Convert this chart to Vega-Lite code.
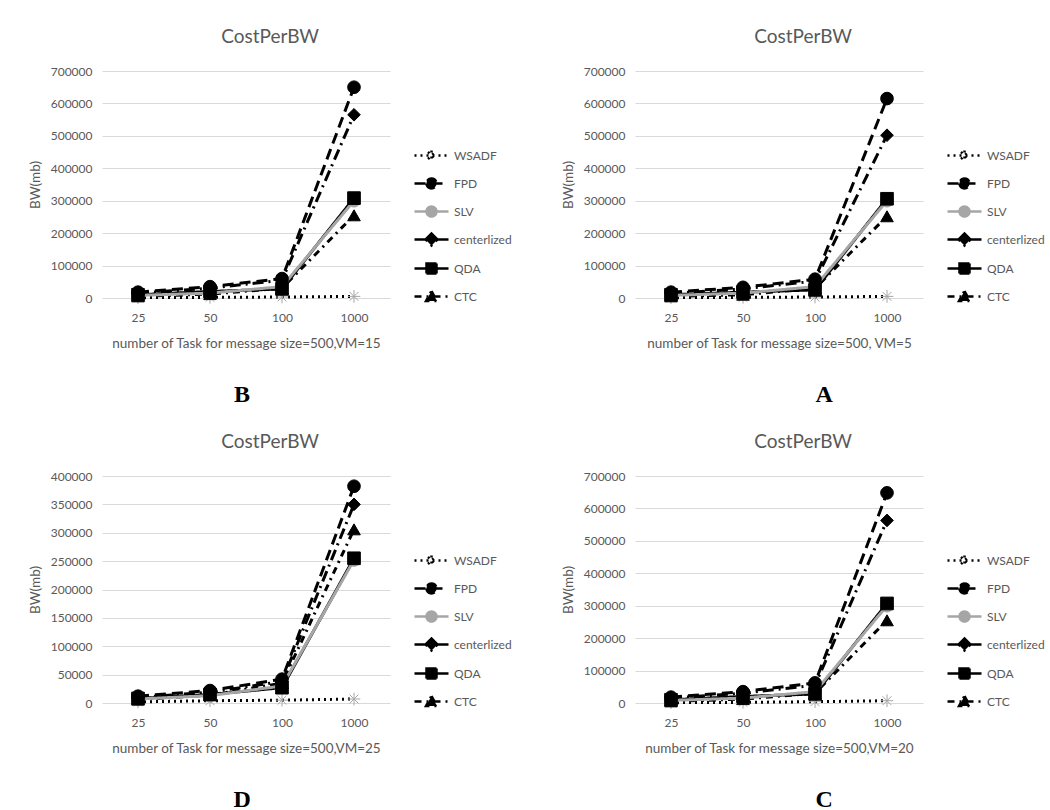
{
  "$schema": "https://vega.github.io/schema/vega-lite/v6.json",
  "background": "white",
  "padding": {"left": 28, "top": 28, "right": 5, "bottom": 5},
  "datasets": {
    "bw": [
      {"panel": "B", "series": "WSADF", "task": 25, "bw": 1000},
      {"panel": "B", "series": "WSADF", "task": 50, "bw": 2000},
      {"panel": "B", "series": "WSADF", "task": 100, "bw": 3000},
      {"panel": "B", "series": "WSADF", "task": 1000, "bw": 5000},
      {"panel": "B", "series": "FPD", "task": 25, "bw": 18000},
      {"panel": "B", "series": "FPD", "task": 50, "bw": 35000},
      {"panel": "B", "series": "FPD", "task": 100, "bw": 60000},
      {"panel": "B", "series": "FPD", "task": 1000, "bw": 650000},
      {"panel": "B", "series": "centerlized", "task": 25, "bw": 15000},
      {"panel": "B", "series": "centerlized", "task": 50, "bw": 30000},
      {"panel": "B", "series": "centerlized", "task": 100, "bw": 55000},
      {"panel": "B", "series": "centerlized", "task": 1000, "bw": 565000},
      {"panel": "B", "series": "QDA", "task": 25, "bw": 10000},
      {"panel": "B", "series": "QDA", "task": 50, "bw": 20000},
      {"panel": "B", "series": "QDA", "task": 100, "bw": 28000},
      {"panel": "B", "series": "QDA", "task": 1000, "bw": 308000},
      {"panel": "B", "series": "CTC", "task": 25, "bw": 5000},
      {"panel": "B", "series": "CTC", "task": 50, "bw": 12000},
      {"panel": "B", "series": "CTC", "task": 100, "bw": 30000},
      {"panel": "B", "series": "CTC", "task": 1000, "bw": 255000},
      {"panel": "B", "series": "SLV", "task": 25, "bw": 8000},
      {"panel": "B", "series": "SLV", "task": 50, "bw": 15000},
      {"panel": "B", "series": "SLV", "task": 100, "bw": 35000},
      {"panel": "B", "series": "SLV", "task": 1000, "bw": 300000},

      {"panel": "A", "series": "WSADF", "task": 25, "bw": 1000},
      {"panel": "A", "series": "WSADF", "task": 50, "bw": 2000},
      {"panel": "A", "series": "WSADF", "task": 100, "bw": 3000},
      {"panel": "A", "series": "WSADF", "task": 1000, "bw": 5000},
      {"panel": "A", "series": "FPD", "task": 25, "bw": 18000},
      {"panel": "A", "series": "FPD", "task": 50, "bw": 33000},
      {"panel": "A", "series": "FPD", "task": 100, "bw": 58000},
      {"panel": "A", "series": "FPD", "task": 1000, "bw": 615000},
      {"panel": "A", "series": "centerlized", "task": 25, "bw": 14000},
      {"panel": "A", "series": "centerlized", "task": 50, "bw": 28000},
      {"panel": "A", "series": "centerlized", "task": 100, "bw": 52000},
      {"panel": "A", "series": "centerlized", "task": 1000, "bw": 502000},
      {"panel": "A", "series": "QDA", "task": 25, "bw": 10000},
      {"panel": "A", "series": "QDA", "task": 50, "bw": 18000},
      {"panel": "A", "series": "QDA", "task": 100, "bw": 25000},
      {"panel": "A", "series": "QDA", "task": 1000, "bw": 306000},
      {"panel": "A", "series": "CTC", "task": 25, "bw": 5000},
      {"panel": "A", "series": "CTC", "task": 50, "bw": 10000},
      {"panel": "A", "series": "CTC", "task": 100, "bw": 30000},
      {"panel": "A", "series": "CTC", "task": 1000, "bw": 252000},
      {"panel": "A", "series": "SLV", "task": 25, "bw": 8000},
      {"panel": "A", "series": "SLV", "task": 50, "bw": 15000},
      {"panel": "A", "series": "SLV", "task": 100, "bw": 35000},
      {"panel": "A", "series": "SLV", "task": 1000, "bw": 300000},

      {"panel": "D", "series": "WSADF", "task": 25, "bw": 2000},
      {"panel": "D", "series": "WSADF", "task": 50, "bw": 4000},
      {"panel": "D", "series": "WSADF", "task": 100, "bw": 5000},
      {"panel": "D", "series": "WSADF", "task": 1000, "bw": 7000},
      {"panel": "D", "series": "FPD", "task": 25, "bw": 12000},
      {"panel": "D", "series": "FPD", "task": 50, "bw": 22000},
      {"panel": "D", "series": "FPD", "task": 100, "bw": 42000},
      {"panel": "D", "series": "FPD", "task": 1000, "bw": 382000},
      {"panel": "D", "series": "centerlized", "task": 25, "bw": 10000},
      {"panel": "D", "series": "centerlized", "task": 50, "bw": 19000},
      {"panel": "D", "series": "centerlized", "task": 100, "bw": 38000},
      {"panel": "D", "series": "centerlized", "task": 1000, "bw": 350000},
      {"panel": "D", "series": "QDA", "task": 25, "bw": 8000},
      {"panel": "D", "series": "QDA", "task": 50, "bw": 15000},
      {"panel": "D", "series": "QDA", "task": 100, "bw": 27000},
      {"panel": "D", "series": "QDA", "task": 1000, "bw": 255000},
      {"panel": "D", "series": "CTC", "task": 25, "bw": 6000},
      {"panel": "D", "series": "CTC", "task": 50, "bw": 14000},
      {"panel": "D", "series": "CTC", "task": 100, "bw": 35000},
      {"panel": "D", "series": "CTC", "task": 1000, "bw": 306000},
      {"panel": "D", "series": "SLV", "task": 25, "bw": 7000},
      {"panel": "D", "series": "SLV", "task": 50, "bw": 13000},
      {"panel": "D", "series": "SLV", "task": 100, "bw": 30000},
      {"panel": "D", "series": "SLV", "task": 1000, "bw": 252000},

      {"panel": "C", "series": "WSADF", "task": 25, "bw": 1000},
      {"panel": "C", "series": "WSADF", "task": 50, "bw": 2000},
      {"panel": "C", "series": "WSADF", "task": 100, "bw": 4000},
      {"panel": "C", "series": "WSADF", "task": 1000, "bw": 7000},
      {"panel": "C", "series": "FPD", "task": 25, "bw": 18000},
      {"panel": "C", "series": "FPD", "task": 50, "bw": 35000},
      {"panel": "C", "series": "FPD", "task": 100, "bw": 62000},
      {"panel": "C", "series": "FPD", "task": 1000, "bw": 648000},
      {"panel": "C", "series": "centerlized", "task": 25, "bw": 15000},
      {"panel": "C", "series": "centerlized", "task": 50, "bw": 30000},
      {"panel": "C", "series": "centerlized", "task": 100, "bw": 55000},
      {"panel": "C", "series": "centerlized", "task": 1000, "bw": 563000},
      {"panel": "C", "series": "QDA", "task": 25, "bw": 10000},
      {"panel": "C", "series": "QDA", "task": 50, "bw": 20000},
      {"panel": "C", "series": "QDA", "task": 100, "bw": 28000},
      {"panel": "C", "series": "QDA", "task": 1000, "bw": 307000},
      {"panel": "C", "series": "CTC", "task": 25, "bw": 5000},
      {"panel": "C", "series": "CTC", "task": 50, "bw": 12000},
      {"panel": "C", "series": "CTC", "task": 100, "bw": 30000},
      {"panel": "C", "series": "CTC", "task": 1000, "bw": 255000},
      {"panel": "C", "series": "SLV", "task": 25, "bw": 8000},
      {"panel": "C", "series": "SLV", "task": 50, "bw": 15000},
      {"panel": "C", "series": "SLV", "task": 100, "bw": 35000},
      {"panel": "C", "series": "SLV", "task": 1000, "bw": 300000}
    ]
  },
  "spacing": 26,
  "resolve": {"scale": {"color": "independent", "shape": "independent", "fill": "independent", "stroke": "independent", "strokeDash": "independent"}},
  "vconcat": [
    {
      "spacing": 49,
      "resolve": {"scale": {"color": "independent", "shape": "independent", "fill": "independent", "stroke": "independent", "strokeDash": "independent"}},
      "hconcat": [
        {
          "title": {"text": "B", "orient": "bottom", "font": "Liberation Serif", "fontWeight": "bold", "fontSize": 24, "color": "black", "anchor": "middle", "frame": "bounds", "offset": 33, "dx": -28},
          "resolve": {"scale": {"color": "independent", "shape": "independent", "fill": "independent", "stroke": "independent", "strokeDash": "independent"}},
          "hconcat": [
            {
              "width": 288, "height": 227,
              "title": "CostPerBW",
              "data": {"name": "bw"},
              "transform": [{"filter": "datum.panel === 'B'"}],
              "encoding": {
                "x": {"field": "task", "type": "ordinal", "scale": {"type": "point", "padding": 0.5}, "axis": {"title": "number of Task  for message size=500,VM=15", "labelAngle": 0}},
                "y": {"field": "bw", "type": "quantitative", "scale": {"domain": [0, 700000]}, "axis": {"title": "BW(mb)", "values": [0, 100000, 200000, 300000, 400000, 500000, 600000, 700000], "format": "d"}}
              },
              "layer": [
                {
                  "mark": {"type": "line", "strokeWidth": 3},
                  "encoding": {
                    "color": {"field": "series", "type": "nominal", "scale": {"domain": ["WSADF", "FPD", "SLV", "centerlized", "QDA", "CTC"], "range": ["black", "black", "#a6a6a6", "black", "black", "black"]},
                      "legend": {"title": null, "orient": "none", "legendX": 311, "legendY": 73, "symbolSize": 400, "symbolStrokeWidth": 2.5, "symbolOffset": 7, "labelOffset": 11, "labelFontSize": 12, "labelColor": "#595959", "rowPadding": 6,
                        "encode": {"symbols": {"update": {
                          "shape": {"signal": "datum.value === 'WSADF' ? 'M-1.7,0H1.7M-0.5,0H0.5M0,-0.5V0.5M-0.35,-0.35L0.35,0.35M-0.35,0.35L0.35,-0.35' : (datum.value === 'FPD' || datum.value === 'SLV') ? 'M-1.7,0H1.7M-0.5,0A0.5,0.5 0 1,0 0.5,0A0.5,0.5 0 1,0 -0.5,0Z' : datum.value === 'centerlized' ? 'M-1.7,0H1.7M0,-0.6L0.6,0L0,0.6L-0.6,0Z' : datum.value === 'QDA' ? 'M-1.7,0H1.7M-0.5,-0.5H0.5V0.5H-0.5Z' : 'M-1.7,0H1.7M0,-0.55L0.55,0.45L-0.55,0.45Z'"},
                          "fill": {"signal": "datum.value === 'SLV' ? '#a6a6a6' : 'black'"},
                          "strokeDash": {"signal": "datum.value === 'WSADF' ? [2,4] : datum.value === 'FPD' ? [11,6] : datum.value === 'centerlized' ? [11,5,2,5] : datum.value === 'CTC' ? [7,5,2,5] : [1,0]"}
                        }}}
                      }
                    },
                    "strokeDash": {"field": "series", "type": "nominal", "scale": {"domain": ["WSADF", "FPD", "SLV", "centerlized", "QDA", "CTC"], "range": [[2, 4], [11, 6], [1, 0], [11, 5, 2, 5], [1, 0], [7, 5, 2, 5]]}, "legend": null}
                  }
                },
                {
                  "mark": {"type": "point", "filled": true, "size": 160, "strokeWidth": 1, "opacity": 1},
                  "encoding": {
                    "order": {"field": "series", "sort": "descending"},
                    "shape": {"field": "series", "type": "nominal", "scale": {"domain": ["CTC", "QDA", "centerlized", "SLV", "FPD", "WSADF"], "range": ["triangle-up", "square", "diamond", "circle", "circle", "M-1,0L1,0M0,-1L0,1M-0.7,-0.7L0.7,0.7M-0.7,0.7L0.7,-0.7"]}, "legend": null},
                    "fill": {"field": "series", "type": "nominal", "scale": {"domain": ["CTC", "QDA", "centerlized", "SLV", "FPD", "WSADF"], "range": ["black", "black", "black", "#a6a6a6", "black", "#bfbfbf"]}, "legend": null},
                    "stroke": {"field": "series", "type": "nominal", "scale": {"domain": ["CTC", "QDA", "centerlized", "SLV", "FPD", "WSADF"], "range": ["black", "black", "black", "#a6a6a6", "black", "#a6a6a6"]}, "legend": null}
                  }
                }
              ]
            }
          ]
        },
        {
          "title": {"text": "A", "orient": "bottom", "font": "Liberation Serif", "fontWeight": "bold", "fontSize": 24, "color": "black", "anchor": "middle", "frame": "bounds", "offset": 33, "dx": 21},
          "resolve": {"scale": {"color": "independent", "shape": "independent", "fill": "independent", "stroke": "independent", "strokeDash": "independent"}},
          "hconcat": [
            {
              "width": 288, "height": 227,
              "title": "CostPerBW",
              "data": {"name": "bw"},
              "transform": [{"filter": "datum.panel === 'A'"}],
              "encoding": {
                "x": {"field": "task", "type": "ordinal", "scale": {"type": "point", "padding": 0.5}, "axis": {"title": "number of Task for message size=500, VM=5", "labelAngle": 0}},
                "y": {"field": "bw", "type": "quantitative", "scale": {"domain": [0, 700000]}, "axis": {"title": "BW(mb)", "values": [0, 100000, 200000, 300000, 400000, 500000, 600000, 700000], "format": "d"}}
              },
              "layer": [
                {
                  "mark": {"type": "line", "strokeWidth": 3},
                  "encoding": {
                    "color": {"field": "series", "type": "nominal", "scale": {"domain": ["WSADF", "FPD", "SLV", "centerlized", "QDA", "CTC"], "range": ["black", "black", "#a6a6a6", "black", "black", "black"]},
                      "legend": {"title": null, "orient": "none", "legendX": 311, "legendY": 73, "symbolSize": 400, "symbolStrokeWidth": 2.5, "symbolOffset": 7, "labelOffset": 11, "labelFontSize": 12, "labelColor": "#595959", "rowPadding": 6,
                        "encode": {"symbols": {"update": {
                          "shape": {"signal": "datum.value === 'WSADF' ? 'M-1.7,0H1.7M-0.5,0H0.5M0,-0.5V0.5M-0.35,-0.35L0.35,0.35M-0.35,0.35L0.35,-0.35' : (datum.value === 'FPD' || datum.value === 'SLV') ? 'M-1.7,0H1.7M-0.5,0A0.5,0.5 0 1,0 0.5,0A0.5,0.5 0 1,0 -0.5,0Z' : datum.value === 'centerlized' ? 'M-1.7,0H1.7M0,-0.6L0.6,0L0,0.6L-0.6,0Z' : datum.value === 'QDA' ? 'M-1.7,0H1.7M-0.5,-0.5H0.5V0.5H-0.5Z' : 'M-1.7,0H1.7M0,-0.55L0.55,0.45L-0.55,0.45Z'"},
                          "fill": {"signal": "datum.value === 'SLV' ? '#a6a6a6' : 'black'"},
                          "strokeDash": {"signal": "datum.value === 'WSADF' ? [2,4] : datum.value === 'FPD' ? [11,6] : datum.value === 'centerlized' ? [11,5,2,5] : datum.value === 'CTC' ? [7,5,2,5] : [1,0]"}
                        }}}
                      }
                    },
                    "strokeDash": {"field": "series", "type": "nominal", "scale": {"domain": ["WSADF", "FPD", "SLV", "centerlized", "QDA", "CTC"], "range": [[2, 4], [11, 6], [1, 0], [11, 5, 2, 5], [1, 0], [7, 5, 2, 5]]}, "legend": null}
                  }
                },
                {
                  "mark": {"type": "point", "filled": true, "size": 160, "strokeWidth": 1, "opacity": 1},
                  "encoding": {
                    "order": {"field": "series", "sort": "descending"},
                    "shape": {"field": "series", "type": "nominal", "scale": {"domain": ["CTC", "QDA", "centerlized", "SLV", "FPD", "WSADF"], "range": ["triangle-up", "square", "diamond", "circle", "circle", "M-1,0L1,0M0,-1L0,1M-0.7,-0.7L0.7,0.7M-0.7,0.7L0.7,-0.7"]}, "legend": null},
                    "fill": {"field": "series", "type": "nominal", "scale": {"domain": ["CTC", "QDA", "centerlized", "SLV", "FPD", "WSADF"], "range": ["black", "black", "black", "#a6a6a6", "black", "#bfbfbf"]}, "legend": null},
                    "stroke": {"field": "series", "type": "nominal", "scale": {"domain": ["CTC", "QDA", "centerlized", "SLV", "FPD", "WSADF"], "range": ["black", "black", "black", "#a6a6a6", "black", "#a6a6a6"]}, "legend": null}
                  }
                }
              ]
            }
          ]
        }
      ]
    },
    {
      "spacing": 49,
      "resolve": {"scale": {"color": "independent", "shape": "independent", "fill": "independent", "stroke": "independent", "strokeDash": "independent"}},
      "hconcat": [
        {
          "title": {"text": "D", "orient": "bottom", "font": "Liberation Serif", "fontWeight": "bold", "fontSize": 24, "color": "black", "anchor": "middle", "frame": "bounds", "offset": 33, "dx": -28},
          "resolve": {"scale": {"color": "independent", "shape": "independent", "fill": "independent", "stroke": "independent", "strokeDash": "independent"}},
          "hconcat": [
            {
              "width": 288, "height": 227,
              "title": "CostPerBW",
              "data": {"name": "bw"},
              "transform": [{"filter": "datum.panel === 'D'"}],
              "encoding": {
                "x": {"field": "task", "type": "ordinal", "scale": {"type": "point", "padding": 0.5}, "axis": {"title": "number of Task  for message size=500,VM=25", "labelAngle": 0}},
                "y": {"field": "bw", "type": "quantitative", "scale": {"domain": [0, 400000]}, "axis": {"title": "BW(mb)", "values": [0, 50000, 100000, 150000, 200000, 250000, 300000, 350000, 400000], "format": "d"}}
              },
              "layer": [
                {
                  "mark": {"type": "line", "strokeWidth": 3},
                  "encoding": {
                    "color": {"field": "series", "type": "nominal", "scale": {"domain": ["WSADF", "FPD", "SLV", "centerlized", "QDA", "CTC"], "range": ["black", "black", "#a6a6a6", "black", "black", "black"]},
                      "legend": {"title": null, "orient": "none", "legendX": 311, "legendY": 73, "symbolSize": 400, "symbolStrokeWidth": 2.5, "symbolOffset": 7, "labelOffset": 11, "labelFontSize": 12, "labelColor": "#595959", "rowPadding": 6,
                        "encode": {"symbols": {"update": {
                          "shape": {"signal": "datum.value === 'WSADF' ? 'M-1.7,0H1.7M-0.5,0H0.5M0,-0.5V0.5M-0.35,-0.35L0.35,0.35M-0.35,0.35L0.35,-0.35' : (datum.value === 'FPD' || datum.value === 'SLV') ? 'M-1.7,0H1.7M-0.5,0A0.5,0.5 0 1,0 0.5,0A0.5,0.5 0 1,0 -0.5,0Z' : datum.value === 'centerlized' ? 'M-1.7,0H1.7M0,-0.6L0.6,0L0,0.6L-0.6,0Z' : datum.value === 'QDA' ? 'M-1.7,0H1.7M-0.5,-0.5H0.5V0.5H-0.5Z' : 'M-1.7,0H1.7M0,-0.55L0.55,0.45L-0.55,0.45Z'"},
                          "fill": {"signal": "datum.value === 'SLV' ? '#a6a6a6' : 'black'"},
                          "strokeDash": {"signal": "datum.value === 'WSADF' ? [2,4] : datum.value === 'FPD' ? [11,6] : datum.value === 'centerlized' ? [11,5,2,5] : datum.value === 'CTC' ? [7,5,2,5] : [1,0]"}
                        }}}
                      }
                    },
                    "strokeDash": {"field": "series", "type": "nominal", "scale": {"domain": ["WSADF", "FPD", "SLV", "centerlized", "QDA", "CTC"], "range": [[2, 4], [11, 6], [1, 0], [11, 5, 2, 5], [1, 0], [7, 5, 2, 5]]}, "legend": null}
                  }
                },
                {
                  "mark": {"type": "point", "filled": true, "size": 160, "strokeWidth": 1, "opacity": 1},
                  "encoding": {
                    "order": {"field": "series", "sort": "descending"},
                    "shape": {"field": "series", "type": "nominal", "scale": {"domain": ["CTC", "QDA", "centerlized", "SLV", "FPD", "WSADF"], "range": ["triangle-up", "square", "diamond", "circle", "circle", "M-1,0L1,0M0,-1L0,1M-0.7,-0.7L0.7,0.7M-0.7,0.7L0.7,-0.7"]}, "legend": null},
                    "fill": {"field": "series", "type": "nominal", "scale": {"domain": ["CTC", "QDA", "centerlized", "SLV", "FPD", "WSADF"], "range": ["black", "black", "black", "#a6a6a6", "black", "#bfbfbf"]}, "legend": null},
                    "stroke": {"field": "series", "type": "nominal", "scale": {"domain": ["CTC", "QDA", "centerlized", "SLV", "FPD", "WSADF"], "range": ["black", "black", "black", "#a6a6a6", "black", "#a6a6a6"]}, "legend": null}
                  }
                }
              ]
            }
          ]
        },
        {
          "title": {"text": "C", "orient": "bottom", "font": "Liberation Serif", "fontWeight": "bold", "fontSize": 24, "color": "black", "anchor": "middle", "frame": "bounds", "offset": 33, "dx": 21},
          "resolve": {"scale": {"color": "independent", "shape": "independent", "fill": "independent", "stroke": "independent", "strokeDash": "independent"}},
          "hconcat": [
            {
              "width": 288, "height": 227,
              "title": "CostPerBW",
              "data": {"name": "bw"},
              "transform": [{"filter": "datum.panel === 'C'"}],
              "encoding": {
                "x": {"field": "task", "type": "ordinal", "scale": {"type": "point", "padding": 0.5}, "axis": {"title": "number of Task  for message size=500,VM=20", "labelAngle": 0}},
                "y": {"field": "bw", "type": "quantitative", "scale": {"domain": [0, 700000]}, "axis": {"title": "BW(mb)", "values": [0, 100000, 200000, 300000, 400000, 500000, 600000, 700000], "format": "d"}}
              },
              "layer": [
                {
                  "mark": {"type": "line", "strokeWidth": 3},
                  "encoding": {
                    "color": {"field": "series", "type": "nominal", "scale": {"domain": ["WSADF", "FPD", "SLV", "centerlized", "QDA", "CTC"], "range": ["black", "black", "#a6a6a6", "black", "black", "black"]},
                      "legend": {"title": null, "orient": "none", "legendX": 311, "legendY": 73, "symbolSize": 400, "symbolStrokeWidth": 2.5, "symbolOffset": 7, "labelOffset": 11, "labelFontSize": 12, "labelColor": "#595959", "rowPadding": 6,
                        "encode": {"symbols": {"update": {
                          "shape": {"signal": "datum.value === 'WSADF' ? 'M-1.7,0H1.7M-0.5,0H0.5M0,-0.5V0.5M-0.35,-0.35L0.35,0.35M-0.35,0.35L0.35,-0.35' : (datum.value === 'FPD' || datum.value === 'SLV') ? 'M-1.7,0H1.7M-0.5,0A0.5,0.5 0 1,0 0.5,0A0.5,0.5 0 1,0 -0.5,0Z' : datum.value === 'centerlized' ? 'M-1.7,0H1.7M0,-0.6L0.6,0L0,0.6L-0.6,0Z' : datum.value === 'QDA' ? 'M-1.7,0H1.7M-0.5,-0.5H0.5V0.5H-0.5Z' : 'M-1.7,0H1.7M0,-0.55L0.55,0.45L-0.55,0.45Z'"},
                          "fill": {"signal": "datum.value === 'SLV' ? '#a6a6a6' : 'black'"},
                          "strokeDash": {"signal": "datum.value === 'WSADF' ? [2,4] : datum.value === 'FPD' ? [11,6] : datum.value === 'centerlized' ? [11,5,2,5] : datum.value === 'CTC' ? [7,5,2,5] : [1,0]"}
                        }}}
                      }
                    },
                    "strokeDash": {"field": "series", "type": "nominal", "scale": {"domain": ["WSADF", "FPD", "SLV", "centerlized", "QDA", "CTC"], "range": [[2, 4], [11, 6], [1, 0], [11, 5, 2, 5], [1, 0], [7, 5, 2, 5]]}, "legend": null}
                  }
                },
                {
                  "mark": {"type": "point", "filled": true, "size": 160, "strokeWidth": 1, "opacity": 1},
                  "encoding": {
                    "order": {"field": "series", "sort": "descending"},
                    "shape": {"field": "series", "type": "nominal", "scale": {"domain": ["CTC", "QDA", "centerlized", "SLV", "FPD", "WSADF"], "range": ["triangle-up", "square", "diamond", "circle", "circle", "M-1,0L1,0M0,-1L0,1M-0.7,-0.7L0.7,0.7M-0.7,0.7L0.7,-0.7"]}, "legend": null},
                    "fill": {"field": "series", "type": "nominal", "scale": {"domain": ["CTC", "QDA", "centerlized", "SLV", "FPD", "WSADF"], "range": ["black", "black", "black", "#a6a6a6", "black", "#bfbfbf"]}, "legend": null},
                    "stroke": {"field": "series", "type": "nominal", "scale": {"domain": ["CTC", "QDA", "centerlized", "SLV", "FPD", "WSADF"], "range": ["black", "black", "black", "#a6a6a6", "black", "#a6a6a6"]}, "legend": null}
                  }
                }
              ]
            }
          ]
        }
      ]
    }
  ],
  "config": {
    "view": {"stroke": null},
    "font": "Lato",
    "title": {"fontSize": 19, "font": "Lato", "fontWeight": "normal", "color": "#595959", "frame": "bounds", "anchor": "middle", "offset": 18},
    "axis": {"labelColor": "#595959", "titleColor": "#595959", "labelFontSize": 12, "titleFontSize": 13.5, "titleFontWeight": "normal", "labelFont": "Lato", "titleFont": "Lato", "domain": false, "ticks": false, "gridColor": "#d9d9d9", "gridWidth": 1},
    "axisX": {"grid": false, "labelPadding": 14, "titlePadding": 13},
    "axisY": {"labelPadding": 10, "titlePadding": 8},
    "legend": {"labelFont": "Lato"}
  }
}
